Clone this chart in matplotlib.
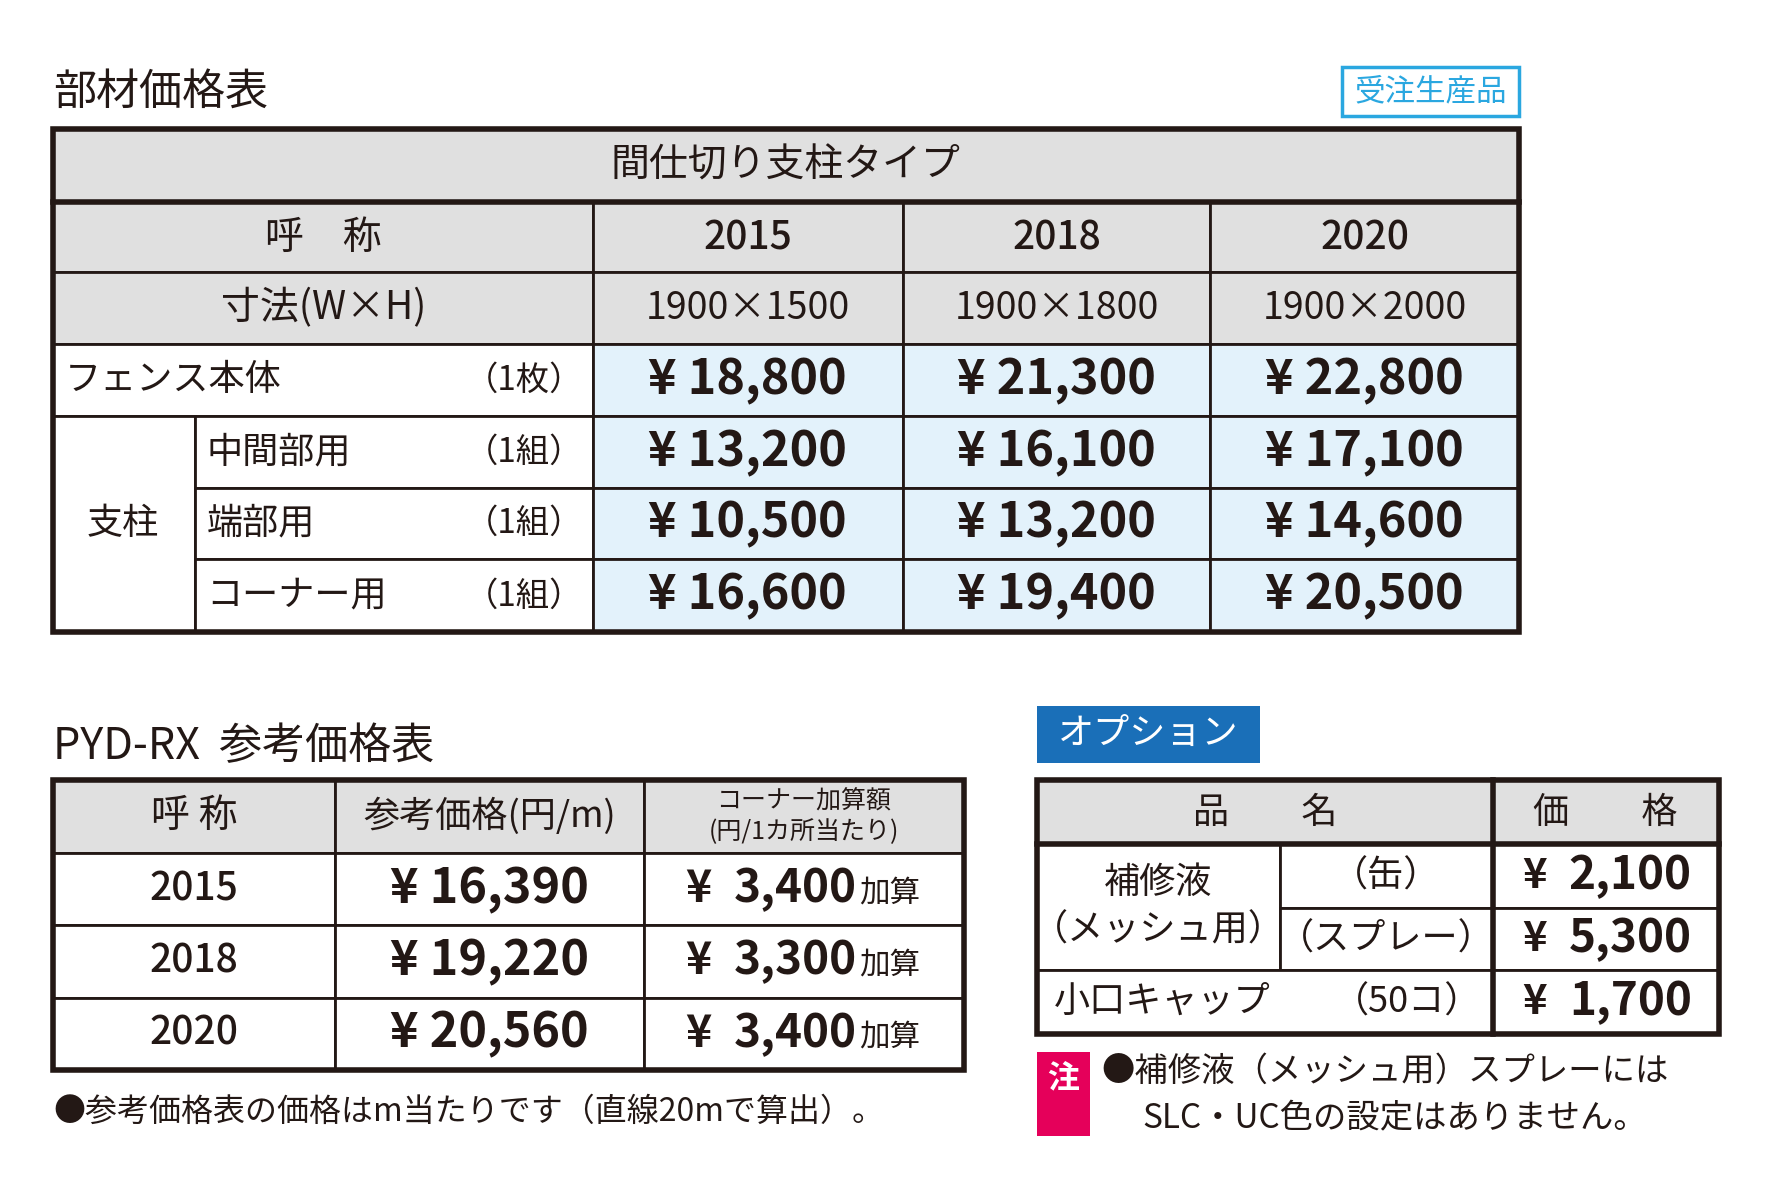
import matplotlib.pyplot as plt
from matplotlib.patches import Rectangle

plt.rcParams['font.family'] = ['Noto Sans CJK JP', 'DejaVu Sans']

# データ
years = ['2015', '2018', '2020']
sizes = ['1900×1500', '1900×1800', '1900×2000']
part_labels = ['フェンス本体', '中間部用', '端部用', 'コーナー用']
part_units = ['（1枚）', '（1組）', '（1組）', '（1組）']
part_prices = [[18800, 21300, 22800],
               [13200, 16100, 17100],
               [10500, 13200, 14600],
               [16600, 19400, 20500]]
ref_prices = [16390, 19220, 20560]
corner_add = [3400, 3300, 3400]
opt_names = ['（缶）', '（スプレー）', '（50コ）']
opt_prices = [2100, 5300, 1700]

DARK = '#231815'
GRAY = '#e0e0e0'
BLUE = '#e3f2fb'

fig = plt.figure(figsize=(17.78, 11.78), dpi=100)
ax = fig.add_axes([0, 0, 1, 1])
ax.set_xlim(0, 1566)
ax.set_ylim(1038, 0)
ax.axis('off')


def cell(x0, y0, x1, y1, fc='white'):
    ax.add_patch(Rectangle((x0, y0), x1 - x0, y1 - y0, fc=fc, ec=DARK, lw=2))


def frame(x0, y0, x1, y1):
    ax.add_patch(Rectangle((x0, y0), x1 - x0, y1 - y0, fc='none', ec=DARK, lw=4))


def txt(x, y, s, size=26, weight='normal', ha='center', color=DARK):
    ax.text(x, y, s, fontsize=size, fontweight=weight, ha=ha, va='center', color=color)


def yen(v):
    return f'¥ {v:,}'


# 部材価格表
txt(47, 82, '部材価格表', 31, ha='left')
ax.add_patch(Rectangle((1182, 59), 156, 43, fc='white', ec='#2aa7e0', lw=2.5))
txt(1260, 81, '受注生産品', 22, color='#2aa7e0')

cols = [47, 522, 795, 1066, 1338]
rows = [114, 178, 240, 303, 367, 430, 493, 557]
cell(47, 114, 1338, 178, GRAY)
txt(692, 146, '間仕切り支柱タイプ', 28)
cell(47, 178, 522, 240, GRAY)
cell(47, 240, 522, 303, GRAY)
txt(285, 210, '呼　称', 28)
txt(285, 272, '寸法(W×H)', 28)
for j in range(3):
    cell(cols[j + 1], 178, cols[j + 2], 240, GRAY)
    cell(cols[j + 1], 240, cols[j + 2], 303, GRAY)
    txt((cols[j + 1] + cols[j + 2]) / 2, 210, years[j], 28, 'medium')
    txt((cols[j + 1] + cols[j + 2]) / 2, 272, sizes[j], 27)
cell(47, 303, 522, 367)
cell(47, 367, 172, 557)
txt(108, 462, '支柱', 26)
for i in range(4):
    y0, y1 = rows[i + 3], rows[i + 4]
    xl = 47 if i == 0 else 172
    if i > 0:
        cell(172, y0, 522, y1)
    txt(xl + 10, (y0 + y1) / 2, part_labels[i], 26, ha='left')
    txt(514, (y0 + y1) / 2, part_units[i], 24, ha='right')
    for j in range(3):
        cell(cols[j + 1], y0, cols[j + 2], y1, BLUE)
        txt((cols[j + 1] + cols[j + 2]) / 2, (y0 + y1) / 2, yen(part_prices[i][j]), 35, 'bold')
frame(47, 114, 1338, 557)
ax.plot([47, 1338], [178, 178], color=DARK, lw=4)

# PYD-RX 参考価格表
txt(47, 658, 'PYD-RX  参考価格表', 31, ha='left')
c2 = [47, 295, 567, 849]
r2 = [687, 752, 815, 879, 943]
for j in range(3):
    cell(c2[j], 687, c2[j + 1], 752, GRAY)
txt(171, 719, '呼 称', 28)
txt(431, 719, '参考価格(円/m)', 26)
txt(708, 706, 'コーナー加算額', 18)
txt(708, 733, '(円/1カ所当たり)', 18)
for i in range(3):
    y0, y1 = r2[i + 1], r2[i + 2]
    ym = (y0 + y1) / 2
    for j in range(3):
        cell(c2[j], y0, c2[j + 1], y1)
    txt(171, ym, years[i], 28, 'medium')
    txt(431, ym, yen(ref_prices[i]), 35, 'bold')
    txt(615, ym, '¥', 32, 'bold')
    txt(755, ym, f'{corner_add[i]:,}', 33, 'bold', ha='right')
    txt(757, ym + 3, '加算', 22, ha='left')
frame(47, 687, 849, 943)
txt(47, 980, '●参考価格表の価格はm当たりです（直線20mで算出）。', 23, ha='left')

# オプション
ax.add_patch(Rectangle((913, 622), 197, 50, fc='#1a6fb8', ec='none'))
txt(1011, 647, 'オプション', 26, color='white')
cell(913, 687, 1315, 744, GRAY)
cell(1315, 687, 1514, 744, GRAY)
txt(1114, 716, '品　　名', 26)
txt(1414, 716, '価　　格', 26)
cell(913, 744, 1127, 855)
txt(1020, 778, '補修液', 26)
txt(1020, 820, '（メッシュ用）', 26)
o_rows = [744, 800, 855, 911]
for i in range(3):
    y0, y1 = o_rows[i], o_rows[i + 1]
    ym = (y0 + y1) / 2
    if i < 2:
        cell(1127, y0, 1315, y1)
        txt(1221, ym, opt_names[i], 26)
    else:
        cell(913, y0, 1315, y1)
        txt(928, ym, '小口キャップ', 26, ha='left')
        txt(1305, ym, opt_names[i], 26, ha='right')
    cell(1315, y0, 1514, y1)
    txt(1352, ym, '¥', 30, 'bold')
    txt(1490, ym, f'{opt_prices[i]:,}', 33, 'bold', ha='right')
frame(913, 687, 1514, 911)
ax.plot([913, 1514], [744, 744], color=DARK, lw=4)
ax.plot([1315, 1315], [687, 911], color=DARK, lw=4)

ax.add_patch(Rectangle((913, 927), 47, 74, fc='#e5005a', ec='none'))
txt(936, 950, '注', 23, 'bold', color='white')
txt(970, 944, '●補修液（メッシュ用）スプレーには', 24, ha='left')
txt(1006, 985, 'SLC・UC色の設定はありません。', 24, ha='left')

fig.savefig('out.png', dpi=100)
